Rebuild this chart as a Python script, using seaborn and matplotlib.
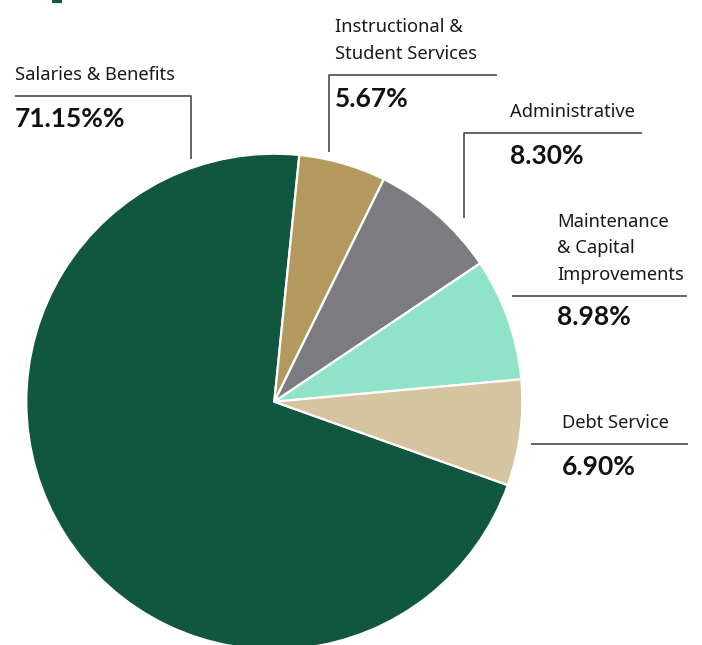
import matplotlib.pyplot as plt
import seaborn as sns

# categories and their printed shares
categories = ["Salaries & Benefits", "Instructional &\nStudent Services", "Administrative",
              "Maintenance\n& Capital\nImprovements", "Debt Service"]
pct_labels = ["71.15%%", "5.67%", "8.30%", "8.98%", "6.90%"]
# wedge sizes as drawn in the picture (the maintenance wedge is drawn at ~7.98)
shares = [71.15, 5.67, 8.30, 7.98, 6.90]
colors = ["#115740", "#b3995d", "#7c7b80", "#8fe3c8", "#d5c49f"]

sns.set_theme(style="white")
plt.rcParams['font.family'] = ['Noto Sans', 'DejaVu Sans']

W, H = 702, 645
fig = plt.figure(figsize=(W / 100, H / 100), dpi=100)
ax = fig.add_axes([0, 0, 1, 1])
ax.set_xlim(0, W)
ax.set_ylim(0, H)
ax.axis('off')

def Y(y):
    return H - y

cx, cy, r = 274.3, 401.7, 248
ax.pie(shares, colors=colors, startangle=84.2 + 360 * shares[0] / sum(shares),
       counterclock=False, center=(cx, Y(cy)), radius=r,
       wedgeprops=dict(edgecolor='white', linewidth=1.6))
ax.set_xlim(0, W)
ax.set_ylim(0, H)
ax.set_aspect('auto')

# label layout: x, first line baseline, percent baseline
label_pos = [(15, 80, 127.3), (335, 32.3, 106.7), (510, 116.7, 164),
             (557, 226.7, 325), (562, 428.3, 475)]
line_step = 26.5
for name, pct, (x, yb, yp) in zip(categories, pct_labels, label_pos):
    for i, line in enumerate(name.split("\n")):
        ax.text(x, Y(yb + i * line_step), line, fontsize=13.2, color='#1a1a1a',
                va='baseline', ha='left')
    ax.text(x, Y(yp), pct, fontsize=19, fontweight='bold', color='#111111',
            va='baseline', ha='left', family=['Lato', 'DejaVu Sans'])

# leader lines
lc = '#4a4a4a'
leaders = [
    [(15, 96), (191, 96), (191, 159)],
    [(497, 75), (328.7, 75), (328.7, 152)],
    [(641.7, 133.3), (464.3, 133.3), (464.3, 218.3)],
    [(511.7, 295.7), (687.3, 295.7)],
    [(530.7, 444), (687.7, 444)],
]
for pts in leaders:
    ax.plot([p[0] for p in pts], [Y(p[1]) for p in pts], color=lc, lw=1.2,
            solid_capstyle='butt')

# sliver of the cropped title at the top edge
ax.plot([52, 62], [H - 1, H - 1], color="#115740", lw=3, solid_capstyle='butt')

fig.savefig("out.png", dpi=100)
